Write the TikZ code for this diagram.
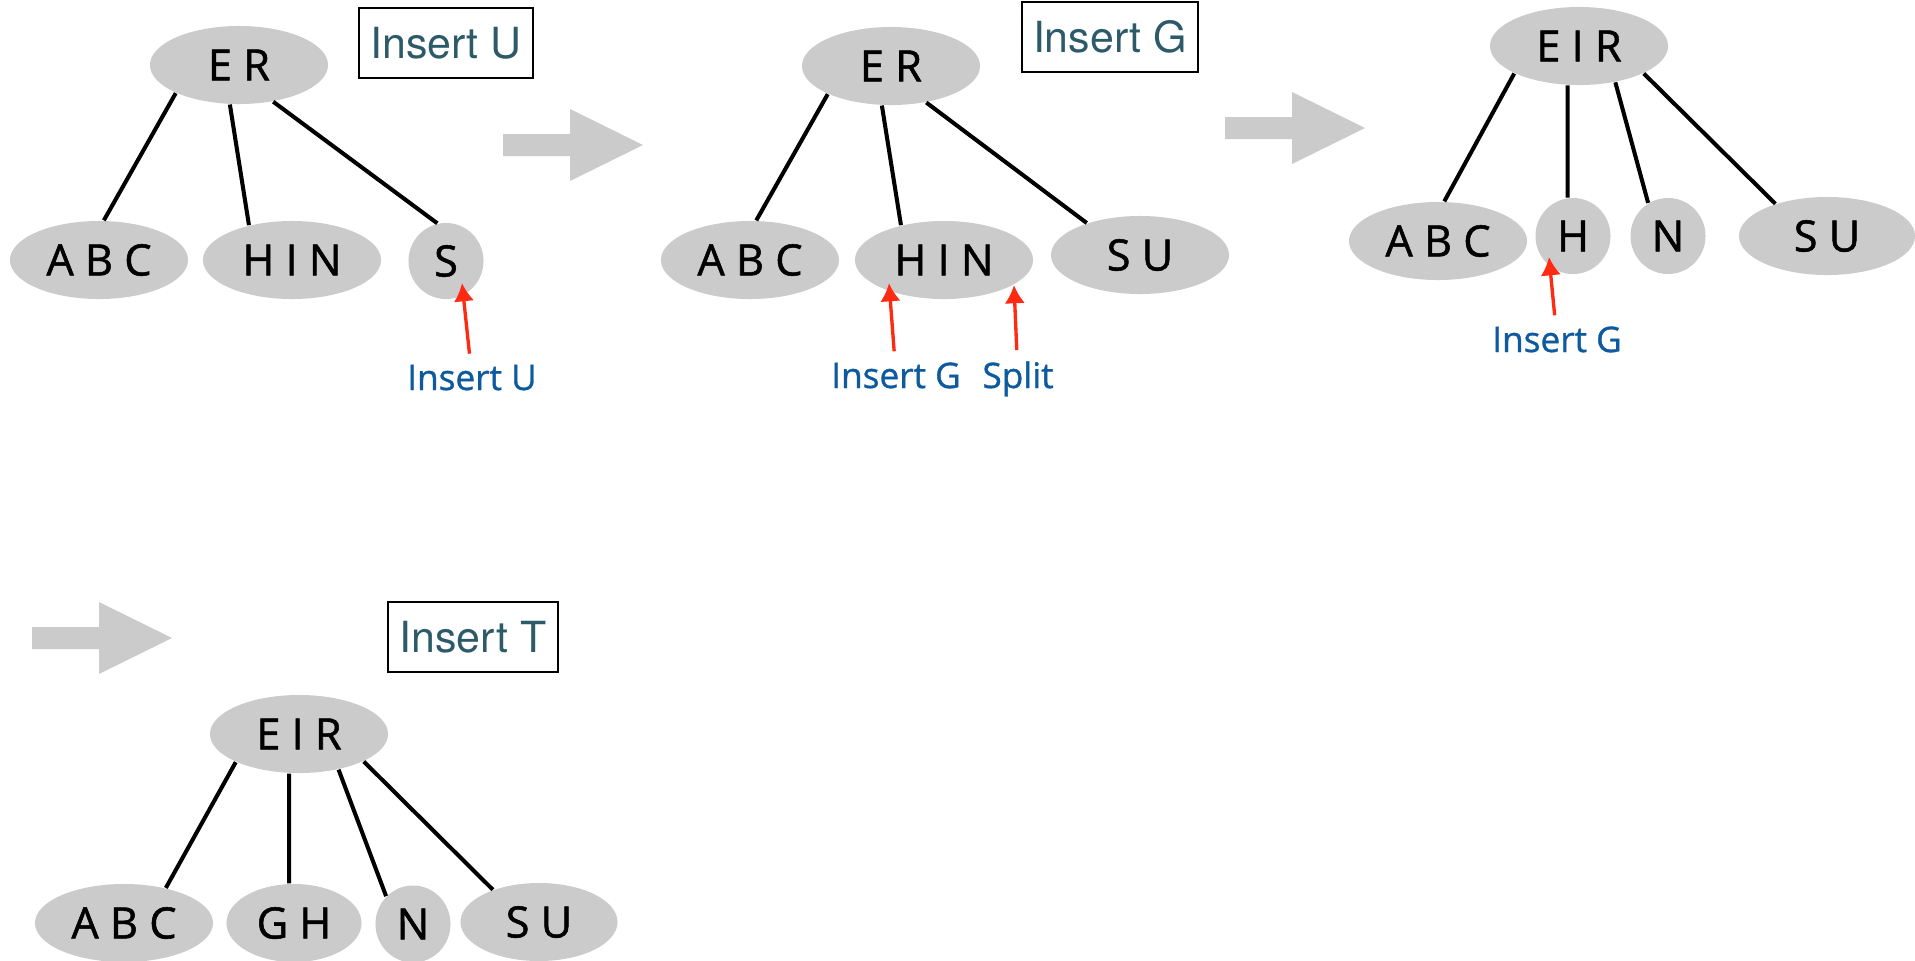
\documentclass[tikz,border=0pt]{standalone}
\usepackage{fontspec}
\usetikzlibrary{arrows.meta, positioning, shapes.geometric, calc}
\newfontfamily\keyfont[FakeBold=1.2]{Open Sans}
\newfontfamily\notefont[FakeBold=1]{Open Sans}
\newfontfamily\boxfont{TeX Gyre Heros}
\definecolor{keygrey}{HTML}{CBCBCB}
\definecolor{notered}{HTML}{FF2A12}
\definecolor{noteblue}{HTML}{0E5A9E}
\definecolor{boxteal}{HTML}{2C5A68}

\begin{document}
\begin{tikzpicture}[x=0.01cm, y=-0.01cm,
        key/.style = {ellipse, fill=keygrey, inner sep=0pt, minimum width=17.8mm,
            minimum height=7.8mm, font=\keyfont\fontsize{12.3}{14}\selectfont},
        one/.style = {key, minimum width=7.5mm, minimum height=7.6mm},
        opbox/.style = {draw, line width=0.6pt, inner xsep=3.2pt, minimum height=7mm,
            text=boxteal, font=\boxfont\fontsize{12.2}{15}\selectfont},
        note/.style = {anchor=base, inner sep=3pt, text=noteblue,
            font=\notefont\fontsize{10}{12}\selectfont},
        link/.style = {line width=1.15pt},
        hit/.style = {-{Latex[length=5.2pt,width=5.8pt]}, notered, line width=0.95pt},
        flow/.style = {fill=keygrey}]
    \useasboundingbox (0,0) rectangle (1915,960);
    % big arrows between the steps
    \foreach \ax/\ay in {503/145, 1225/128, 32/638}
        \fill[flow] (\ax,\ay-11) -- ++(67,0) -- ++(0,-25) -- ++(73,36)
            -- ++(-73,36) -- ++(0,-25) -- ++(-67,0) -- cycle;
    % step 1: insert U
    \node[key] (er1) at (239,65) {E R};
    \node[key] (abc1) at (99,260) {A B C};
    \node[key] (hin1) at (292,260) {H I N};
    \node[one] (s1) at (446,261) {S};
    \node[opbox] (op1) at (446,43) {Insert U};
    \draw[link] (er1.204) -- (abc1.83);
    \draw[link] (er1.257) -- (hin1.141);
    \draw[link] (er1.-47) -- (s1.103);
    \node[note] (lblU) at (472,390) {Insert U};
    \coordinate (tipU) at ($(s1)+(16,22)$);
    \draw[hit] (lblU) -- (tipU);
    % step 2: insert G, split
    \node[key] (er2) at (891,66) {E R};
    \node[key] (abc2) at (750,260) {A B C};
    \node[key] (hin2) at (944,260) {H I N};
    \node[key] (su2) at (1140,255) {S U};
    \node[opbox] (op2) at (1110,37) {Insert G};
    \draw[link] (er2.204) -- (abc2.81);
    \draw[link] (er2.257) -- (hin2.141);
    \draw[link] (er2.-46) -- (su2.149);
    \node[note] (lblG) at (896,388) {Insert G};
    \node[note] (lblSplit) at (1018,388) {Split};
    \coordinate (tipG) at ($(hin2)+(-55,23)$);
    \coordinate (tipSplit) at ($(hin2)+(70,25)$);
    \draw[hit] (lblG) -- (tipG);
    \draw[hit] (lblSplit) -- (tipSplit);
    % step 3: after the split
    \node[key] (eir3) at (1579,46) {E I R};
    \node[key] (abc3) at (1438,241) {A B C};
    \node[one] (h3) at (1573,236) {H};
    \node[one] (n3) at (1668,236) {N};
    \node[key, minimum width=17.6mm] (su3) at (1827,236) {S U};
    \draw[link] (eir3.203) -- (abc3.81);
    \draw[link] (eir3.254) -- (h3.98);
    \draw[link] (eir3.-45) -- (n3.121);
    \draw[link] (eir3.-23) -- (su3.148);
    \node[note] (lblH) at (1557,352) {Insert G};
    \coordinate (tipH) at ($(h3)+(-24,21)$);
    \draw[hit] (lblH) -- (tipH);
    % step 4: insert T
    \node[opbox] (op4) at (473,637) {Insert T};
    \node[key] (eir4) at (299,734) {E I R};
    \node[key] (abc4) at (124,923) {A B C};
    \node[key, minimum width=13.5mm] (gh4) at (294,923) {G H};
    \node[one, minimum height=7.7mm] (n4) at (413,924) {N};
    \node[key, minimum width=15.7mm] (su4) at (539,922) {S U};
    \draw[link] (eir4.204) -- (abc4.40);
    \draw[link] (eir4.256) -- (gh4.97);
    \draw[link] (eir4.-42) -- (n4.134);
    \draw[link] (eir4.-23) -- (su4.145);
\end{tikzpicture}
\end{document}
